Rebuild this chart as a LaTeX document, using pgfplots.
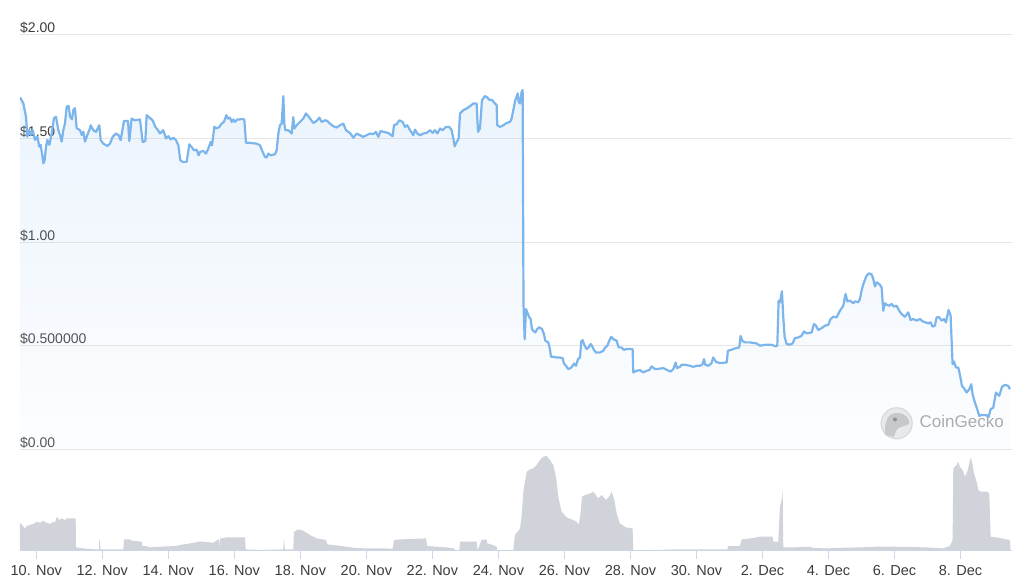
\documentclass[border=0pt]{standalone}
\usepackage{pgfplots}
\usepackage{pgfplotstable}
\pgfplotsset{compat=1.18}
\usepackage{fontspec}
\setmainfont{Liberation Sans}
\definecolor{linec}{RGB}{124,181,236}
\definecolor{gridc}{RGB}{230,230,230}
\definecolor{volc}{RGB}{208,211,218}
\definecolor{axisc}{RGB}{204,214,235}
\definecolor{textc}{RGB}{60,60,60}
\definecolor{markc}{RGB}{160,160,160}

\pgfplotstableread{
day price
-0.494 1.699
-0.393 1.670
-0.312 1.605
-0.272 1.509
-0.211 1.541
-0.171 1.517
-0.110 1.541
-0.039 1.493
0.031 1.509
0.092 1.460
0.132 1.469
0.173 1.428
0.213 1.380
0.253 1.396
0.294 1.460
0.334 1.493
0.395 1.469
0.466 1.525
0.536 1.598
0.597 1.605
0.667 1.541
0.718 1.517
0.769 1.485
0.819 1.541
0.869 1.573
0.920 1.654
0.981 1.657
1.021 1.605
1.081 1.593
1.122 1.638
1.172 1.646
1.223 1.549
1.324 1.541
1.374 1.517
1.425 1.533
1.475 1.485
1.546 1.517
1.627 1.549
1.647 1.564
1.728 1.540
1.809 1.532
1.909 1.564
1.950 1.492
2.031 1.475
2.152 1.464
2.233 1.475
2.313 1.508
2.414 1.524
2.495 1.516
2.556 1.492
2.657 1.585
2.778 1.585
2.818 1.488
2.889 1.596
2.990 1.588
3.141 1.592
3.222 1.483
3.303 1.488
3.344 1.613
3.404 1.604
3.525 1.588
3.606 1.556
3.687 1.540
3.748 1.524
3.848 1.540
3.929 1.500
4.000 1.511
4.071 1.495
4.152 1.504
4.232 1.492
4.303 1.467
4.363 1.395
4.434 1.387
4.505 1.387
4.555 1.387
4.636 1.472
4.707 1.459
4.777 1.443
4.858 1.446
4.919 1.419
4.959 1.435
5.060 1.440
5.141 1.427
5.211 1.451
5.282 1.483
5.323 1.467
5.393 1.556
5.464 1.548
5.545 1.556
5.615 1.572
5.686 1.580
5.757 1.613
5.807 1.596
5.868 1.601
5.918 1.580
5.969 1.592
6.019 1.580
6.090 1.592
6.151 1.592
6.211 1.594
6.302 1.592
6.353 1.479
6.474 1.479
6.676 1.475
6.777 1.467
6.858 1.435
6.928 1.411
6.979 1.408
7.029 1.427
7.100 1.419
7.231 1.424
7.282 1.443
7.332 1.524
7.383 1.564
7.433 1.572
7.484 1.705
7.514 1.572
7.544 1.540
7.635 1.540
7.736 1.524
7.786 1.604
7.817 1.548
7.888 1.564
7.988 1.580
8.089 1.596
8.170 1.621
8.241 1.608
8.312 1.592
8.392 1.575
8.494 1.585
8.574 1.601
8.645 1.580
8.746 1.588
8.816 1.585
8.897 1.572
8.998 1.559
9.099 1.553
9.200 1.564
9.301 1.572
9.382 1.540
9.503 1.527
9.604 1.504
9.705 1.524
9.806 1.516
9.907 1.508
10.008 1.516
10.109 1.524
10.210 1.521
10.291 1.532
10.361 1.508
10.432 1.537
10.513 1.532
10.664 1.527
10.796 1.511
10.836 1.564
10.917 1.569
10.998 1.588
11.099 1.580
11.169 1.556
11.240 1.564
11.321 1.540
11.422 1.516
11.472 1.543
11.543 1.524
11.624 1.516
11.725 1.524
11.826 1.527
11.927 1.540
12.008 1.527
12.078 1.540
12.149 1.524
12.230 1.548
12.310 1.540
12.411 1.556
12.512 1.556
12.583 1.540
12.634 1.500
12.674 1.462
12.735 1.483
12.795 1.500
12.836 1.621
12.937 1.637
13.038 1.645
13.139 1.656
13.239 1.669
13.340 1.669
13.381 1.532
13.441 1.548
13.502 1.685
13.593 1.705
13.664 1.698
13.744 1.685
13.795 1.688
13.896 1.669
13.946 1.661
13.966 1.564
14.047 1.556
14.148 1.564
14.249 1.575
14.350 1.580
14.401 1.596
14.451 1.637
14.512 1.685
14.552 1.701
14.583 1.718
14.613 1.677
14.653 1.669
14.704 1.726
14.734 1.734
14.760 0.700
14.795 0.531
14.835 0.676
14.875 0.660
14.936 0.636
14.976 0.628
15.017 0.580
15.057 0.571
15.118 0.563
15.178 0.580
15.239 0.588
15.320 0.580
15.380 0.555
15.421 0.523
15.511 0.515
15.562 0.483
15.592 0.446
15.663 0.446
15.764 0.442
15.865 0.442
15.946 0.439
15.986 0.413
16.047 0.402
16.117 0.386
16.188 0.391
16.249 0.402
16.289 0.413
16.350 0.402
16.410 0.434
16.471 0.442
16.511 0.520
16.552 0.526
16.612 0.499
16.673 0.483
16.733 0.491
16.794 0.507
16.834 0.499
16.895 0.478
16.956 0.466
17.077 0.466
17.178 0.475
17.238 0.491
17.299 0.499
17.359 0.523
17.420 0.542
17.481 0.531
17.582 0.523
17.642 0.491
17.723 0.491
17.804 0.479
17.884 0.483
18.066 0.483
18.086 0.370
18.187 0.378
18.288 0.381
18.389 0.370
18.490 0.378
18.571 0.381
18.642 0.399
18.743 0.386
18.844 0.387
18.995 0.391
19.096 0.383
19.217 0.374
19.298 0.386
19.369 0.418
19.409 0.391
19.500 0.397
19.551 0.407
19.652 0.407
19.803 0.402
19.904 0.397
20.005 0.402
20.106 0.402
20.187 0.410
20.227 0.434
20.267 0.407
20.358 0.402
20.449 0.413
20.510 0.442
20.591 0.421
20.712 0.415
20.914 0.418
20.954 0.475
21.035 0.478
21.166 0.486
21.297 0.491
21.338 0.546
21.388 0.523
21.469 0.515
21.620 0.515
21.822 0.510
21.923 0.499
22.024 0.502
22.125 0.504
22.277 0.504
22.388 0.496
22.449 0.499
22.489 0.717
22.530 0.709
22.590 0.762
22.631 0.636
22.671 0.542
22.732 0.507
22.832 0.504
22.913 0.510
22.984 0.536
23.085 0.539
23.186 0.547
23.256 0.568
23.337 0.559
23.489 0.563
23.559 0.604
23.620 0.596
23.691 0.575
23.792 0.584
23.893 0.596
23.994 0.600
24.064 0.628
24.145 0.639
24.246 0.636
24.347 0.668
24.448 0.692
24.519 0.749
24.569 0.713
24.650 0.717
24.751 0.704
24.801 0.713
24.902 0.709
24.953 0.725
25.014 0.773
25.074 0.805
25.155 0.838
25.236 0.849
25.307 0.843
25.357 0.822
25.408 0.785
25.458 0.805
25.539 0.797
25.610 0.781
25.660 0.668
25.710 0.704
25.761 0.697
25.841 0.692
25.912 0.701
25.983 0.688
26.064 0.692
26.144 0.668
26.215 0.652
26.316 0.639
26.417 0.660
26.488 0.623
26.569 0.628
26.670 0.620
26.771 0.628
26.852 0.617
26.932 0.612
27.023 0.607
27.094 0.612
27.154 0.591
27.225 0.596
27.276 0.636
27.356 0.636
27.427 0.620
27.498 0.628
27.558 0.612
27.639 0.672
27.700 0.644
27.760 0.410
27.801 0.423
27.861 0.394
27.932 0.394
27.983 0.358
28.043 0.305
28.104 0.294
28.184 0.273
28.265 0.289
28.326 0.313
28.366 0.265
28.437 0.224
28.507 0.192
28.568 0.160
28.649 0.165
28.790 0.163
28.851 0.155
28.912 0.192
28.992 0.200
29.073 0.273
29.114 0.265
29.174 0.257
29.255 0.300
29.346 0.310
29.447 0.305
29.497 0.289
}\price

\pgfplotstableread{
day vol
-0.494 28
-0.342 22.3
-0.292 24.7
-0.090 26.7
0.011 29
0.112 28
0.213 30
0.314 28
0.415 26.7
0.516 29
0.566 28
0.617 34
0.698 30.7
0.768 32.3
0.869 30.7
0.920 32.3
1.071 32.3
1.193 32.3
1.203 3.3
1.425 2.3
1.829 1.3
1.899 1.3
1.909 12.3
1.950 1.3
2.637 1.3
2.657 11.3
2.839 11.3
2.889 10
3.192 9
3.212 4.7
3.323 4.7
3.444 3.3
3.748 4
4.252 4.7
4.353 5.7
4.656 7.3
4.959 9.3
5.363 8
5.514 11.3
5.540 11.3
5.550 1
5.570 12
5.767 13.3
6.322 13.3
6.343 1.3
6.776 0.7
7.484 1.3
7.504 12.3
7.534 1.3
7.786 1.3
7.806 19
7.938 21.3
8.089 20
8.291 15.7
8.494 12.3
8.776 10.7
8.816 6.3
9.099 5.3
9.402 4
9.604 3
9.907 2.3
10.513 2.3
10.796 2
10.836 10.7
11.018 11.3
11.321 11.7
11.806 12.3
11.846 4.7
12.129 4
12.432 3.3
12.654 2.3
12.684 0.7
12.816 0.7
12.836 9
13.340 9
13.371 0.7
13.492 10.7
13.643 11.3
13.664 7.3
13.744 6.7
13.946 4
13.966 0.7
14.451 0.7
14.502 15.7
14.653 22
14.700 34
14.760 60
14.855 79
14.956 81.3
15.057 82.3
15.158 85.7
15.259 90.7
15.360 94
15.461 94.7
15.562 90.7
15.663 85.7
15.744 74
15.814 54
15.915 39
16.067 33.3
16.218 31.3
16.370 29
16.431 25.7
16.491 37.3
16.531 54
16.622 55.7
16.774 57.3
16.875 59
17.026 52.3
17.127 55.7
17.259 50.7
17.359 54
17.430 59
17.511 50.7
17.582 37.3
17.682 27.3
17.864 23.3
18.066 22.3
18.086 0.7
18.692 0.7
19.399 1.3
20.510 1.3
20.934 1.3
20.964 4.7
21.318 4.7
21.368 11.3
21.722 12.7
21.924 14
22.307 14
22.327 9
22.479 9
22.530 44
22.580 50.7
22.611 60.7
22.631 3.3
22.933 3.3
23.438 4
23.539 2.7
23.943 2.3
24.448 3
24.953 3.3
25.458 4
25.963 4
26.468 3.7
26.973 3.3
27.477 2.3
27.680 4.7
27.760 10.7
27.781 82.3
27.882 85.7
27.932 89
27.983 84
28.064 80.7
28.134 74
28.205 79
28.265 87.3
28.306 93.3
28.356 88
28.407 77.3
28.487 69
28.548 60
28.639 59
28.790 59
28.871 57.3
28.912 14
29.093 13.3
29.396 11.3
29.497 10.7
29.517 0
}\volume

\begin{document}
\begin{tikzpicture}
\path[use as bounding box] (0pt,0pt) rectangle (1030pt,587pt);
% watermark
\fill[black!9] (896.7pt,163.7pt) circle (15.5pt);
\draw[black!16, line width=1.2pt] (896.7pt,163.7pt) circle (15.5pt);
\fill[black!24] (885pt,152pt) .. controls (884pt,166pt) and (888pt,174pt) .. (897pt,174pt)
  .. controls (906pt,174pt) and (910pt,168pt) .. (909pt,163pt)
  .. controls (904pt,160pt) and (898pt,161pt) .. (896pt,156pt)
  -- (894pt,150pt) -- cycle;
\fill[black!50] (895pt,167.5pt) circle (2pt);
\node[anchor=west, text=markc, font=\fontsize{17}{20}\selectfont, inner sep=0pt] at (919.5pt,165.5pt) {CoinGecko};
% price panel
\begin{axis}[
  at={(20pt,138pt)}, anchor=south west,
  scale only axis, width=992pt, height=414pt,
  xmin=-0.494, xmax=29.56, ymin=0, ymax=2,
  axis line style={draw=none},
  xtick=\empty,
  ytick={0,0.5,1,1.5,2},
  yticklabels={\$0.00,\$0.500000,\$1.00,\$1.50,\$2.00},
  ymajorgrids, grid style={gridc, line width=1pt},
  major tick length=0pt, ytick style={draw=none},
  yticklabel style={anchor=base west, inner sep=0pt, yshift=2pt, font=\fontsize{14}{16}\selectfont, text=textc},
]
\addplot[draw=none, top color=linec, bottom color=linec!15!white, fill opacity=0.15] table[x=day,y=price]{\price} \closedcycle;
\addplot[linec, line width=2.2pt, line join=round] table[x=day,y=price]{\price};
\end{axis}
% volume panel
\begin{axis}[
  at={(20pt,36.3pt)}, anchor=south west,
  scale only axis, width=992pt, height=100pt,
  xmin=-0.494, xmax=29.56, ymin=0, ymax=100,
  axis x line=bottom, axis y line=none,
  axis line style={-, draw=axisc, line width=1pt},
  axis on top,
  xtick={0,2,...,28},
  xticklabels={10. Nov,12. Nov,14. Nov,16. Nov,18. Nov,20. Nov,22. Nov,24. Nov,26. Nov,28. Nov,30. Nov,2. Dec,4. Dec,6. Dec,8. Dec},
  tick align=outside, major tick length=8pt,
  xtick style={draw=axisc, line width=1pt},
  xticklabel style={font=\fontsize{14.5}{16}\selectfont, text=textc, text height=10.5pt, text depth=0pt, anchor=north, yshift=-2.5pt},
]
\addplot[fill=volc, draw=none] table[x=day,y=vol]{\volume} \closedcycle;
\end{axis}
\end{tikzpicture}
\end{document}
